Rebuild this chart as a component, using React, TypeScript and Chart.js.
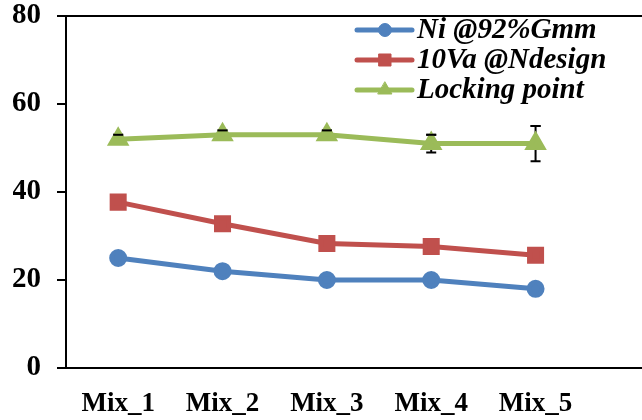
import React, { useEffect, useRef } from 'react';
import { Chart, registerables } from 'chart.js';
import { drawPoint } from 'chart.js/helpers';

Chart.register(...registerables);

const categories = ['Mix_1', 'Mix_2', 'Mix_3', 'Mix_4', 'Mix_5'];
const niValues = [25, 22, 20, 20, 18];
const vaValues = [37.7, 32.8, 28.3, 27.6, 25.6];
const lockValues = [52, 53, 53, 51, 51];
const lockErrors = [1, 1, 1, 2, 4];
const yTicks = [0, 20, 40, 60, 80];
const seriesNames = ['Ni @92%Gmm', '10Va @Ndesign', 'Locking point'];

const FONT = '"Liberation Serif", "Times New Roman", serif';

const toPoints = (vals: number[]) => vals.map((v, i) => ({ x: i + 1, y: v }));

function drawErrorBars(chart: any, topCapOnly: boolean) {
  const meta = chart.getDatasetMeta(2);
  const ys = chart.scales.y;
  const ctx = chart.ctx;
  ctx.save();
  ctx.strokeStyle = '#000';
  ctx.lineWidth = 2;
  meta.data.forEach((pt: any, i: number) => {
    const x = pt.x;
    const yTop = ys.getPixelForValue(lockValues[i] + lockErrors[i]);
    const yBot = ys.getPixelForValue(lockValues[i] - lockErrors[i]);
    ctx.beginPath();
    ctx.moveTo(x - 5, yTop);
    ctx.lineTo(x + 5, yTop);
    if (!topCapOnly) {
      ctx.moveTo(x, yTop);
      ctx.lineTo(x, yBot);
      ctx.moveTo(x - 5, yBot);
      ctx.lineTo(x + 5, yBot);
    }
    ctx.stroke();
  });
  ctx.restore();
}

const errorBarPlugin = {
  id: 'errorBars',
  beforeDatasetsDraw(chart: any) {
    drawErrorBars(chart, false);
  },
  afterDatasetsDraw(chart: any) {
    drawErrorBars(chart, true);
  },
};

const legendPlugin = {
  id: 'excelLegend',
  afterDraw(chart: any) {
    const ctx = chart.ctx;
    const area = chart.chartArea;
    const x0 = area.left + 291;
    chart.data.datasets.forEach((ds: any, i: number) => {
      const y = area.top + 14 + i * 30;
      ctx.save();
      ctx.strokeStyle = ds.borderColor;
      ctx.lineWidth = 5;
      ctx.lineCap = 'round';
      ctx.beginPath();
      ctx.moveTo(x0, y);
      ctx.lineTo(x0 + 55, y);
      ctx.stroke();
      ctx.fillStyle = ds.pointBackgroundColor;
      ctx.strokeStyle = ds.pointBorderColor;
      ctx.lineWidth = 1;
      drawPoint(ctx, { radius: ds.pointRadius, pointStyle: ds.pointStyle, rotation: 0, borderWidth: 1 }, x0 + 28, y);
      ctx.fillStyle = '#000';
      ctx.font = `italic bold 29px ${FONT}`;
      ctx.textBaseline = 'middle';
      ctx.textAlign = 'left';
      ctx.fillText(ds.label, x0 + 60, y + 1);
      ctx.restore();
    });
  },
};

export default function App() {
  const ref = useRef<HTMLCanvasElement>(null);

  useEffect(() => {
    if (!ref.current) return;
    const chart = new Chart(ref.current, {
      type: 'line',
      data: {
        datasets: [
          {
            label: seriesNames[0],
            data: toPoints(niValues),
            borderColor: '#4F81BD',
            backgroundColor: '#4F81BD',
            pointBackgroundColor: '#4F81BD',
            pointBorderColor: '#4F81BD',
            pointStyle: 'circle',
            pointRadius: 6.5,
            borderWidth: 5,
            tension: 0,
          },
          {
            label: seriesNames[1],
            data: toPoints(vaValues),
            borderColor: '#C0504D',
            backgroundColor: '#C0504D',
            pointBackgroundColor: '#C0504D',
            pointBorderColor: '#C0504D',
            pointStyle: 'rect',
            pointRadius: 8.5,
            borderWidth: 5,
            tension: 0,
          },
          {
            label: seriesNames[2],
            data: toPoints(lockValues),
            borderColor: '#9BBB59',
            backgroundColor: '#9BBB59',
            pointBackgroundColor: '#9BBB59',
            pointBorderColor: '#9BBB59',
            pointStyle: 'triangle',
            pointRadius: 8,
            borderWidth: 5,
            tension: 0,
          },
        ],
      },
      options: {
        responsive: false,
        animation: false,
        layout: { autoPadding: false, padding: { left: 13, top: 16, right: 0, bottom: 0 } },
        plugins: {
          legend: { display: false },
          tooltip: { enabled: false },
        },
        scales: {
          x: {
            type: 'linear',
            min: 0.5,
            max: 6.02,
            afterBuildTicks: (scale: any) => {
              scale.ticks = categories.map((_, i) => ({ value: i + 1 }));
            },
            afterFit: (scale: any) => {
              scale.height = 52;
              scale.paddingLeft = 0;
              scale.paddingRight = 0;
              scale.paddingTop = 0;
              scale.paddingBottom = 0;
            },
            grid: { display: false, drawTicks: false },
            border: { display: true, color: '#000', width: 2 },
            ticks: {
              autoSkip: false,
              maxRotation: 0,
              padding: 20,
              color: '#000',
              font: { family: FONT, size: 27, weight: 'bold' },
              callback: (v: any) => categories[Math.round(Number(v)) - 1] ?? '',
            },
          },
          y: {
            min: 0,
            max: 80,
            afterBuildTicks: (scale: any) => {
              scale.ticks = yTicks.map((v) => ({ value: v }));
            },
            afterFit: (scale: any) => {
              scale.width = 53;
              scale.paddingLeft = 0;
              scale.paddingRight = 0;
              scale.paddingTop = 0;
              scale.paddingBottom = 0;
            },
            grid: {
              color: (c: any) => (c.tick && c.tick.value === 80 ? '#000' : 'rgba(0,0,0,0)'),
              lineWidth: 2,
              tickColor: '#000',
              tickLength: 9,
              drawTicks: true,
            },
            border: { display: true, color: '#000', width: 2 },
            ticks: {
              padding: 16,
              color: '#000',
              font: { family: FONT, size: 29, weight: 'bold' },
            },
          },
        },
      },
      plugins: [errorBarPlugin, legendPlugin],
    } as any);
    return () => chart.destroy();
  }, []);

  return (
    <div style={{ position: 'absolute', left: 0, top: 0, width: 642, height: 420, background: '#fff' }}>
      <canvas ref={ref} width={642} height={420} style={{ width: 642, height: 420, display: 'block' }} />
    </div>
  );
}
